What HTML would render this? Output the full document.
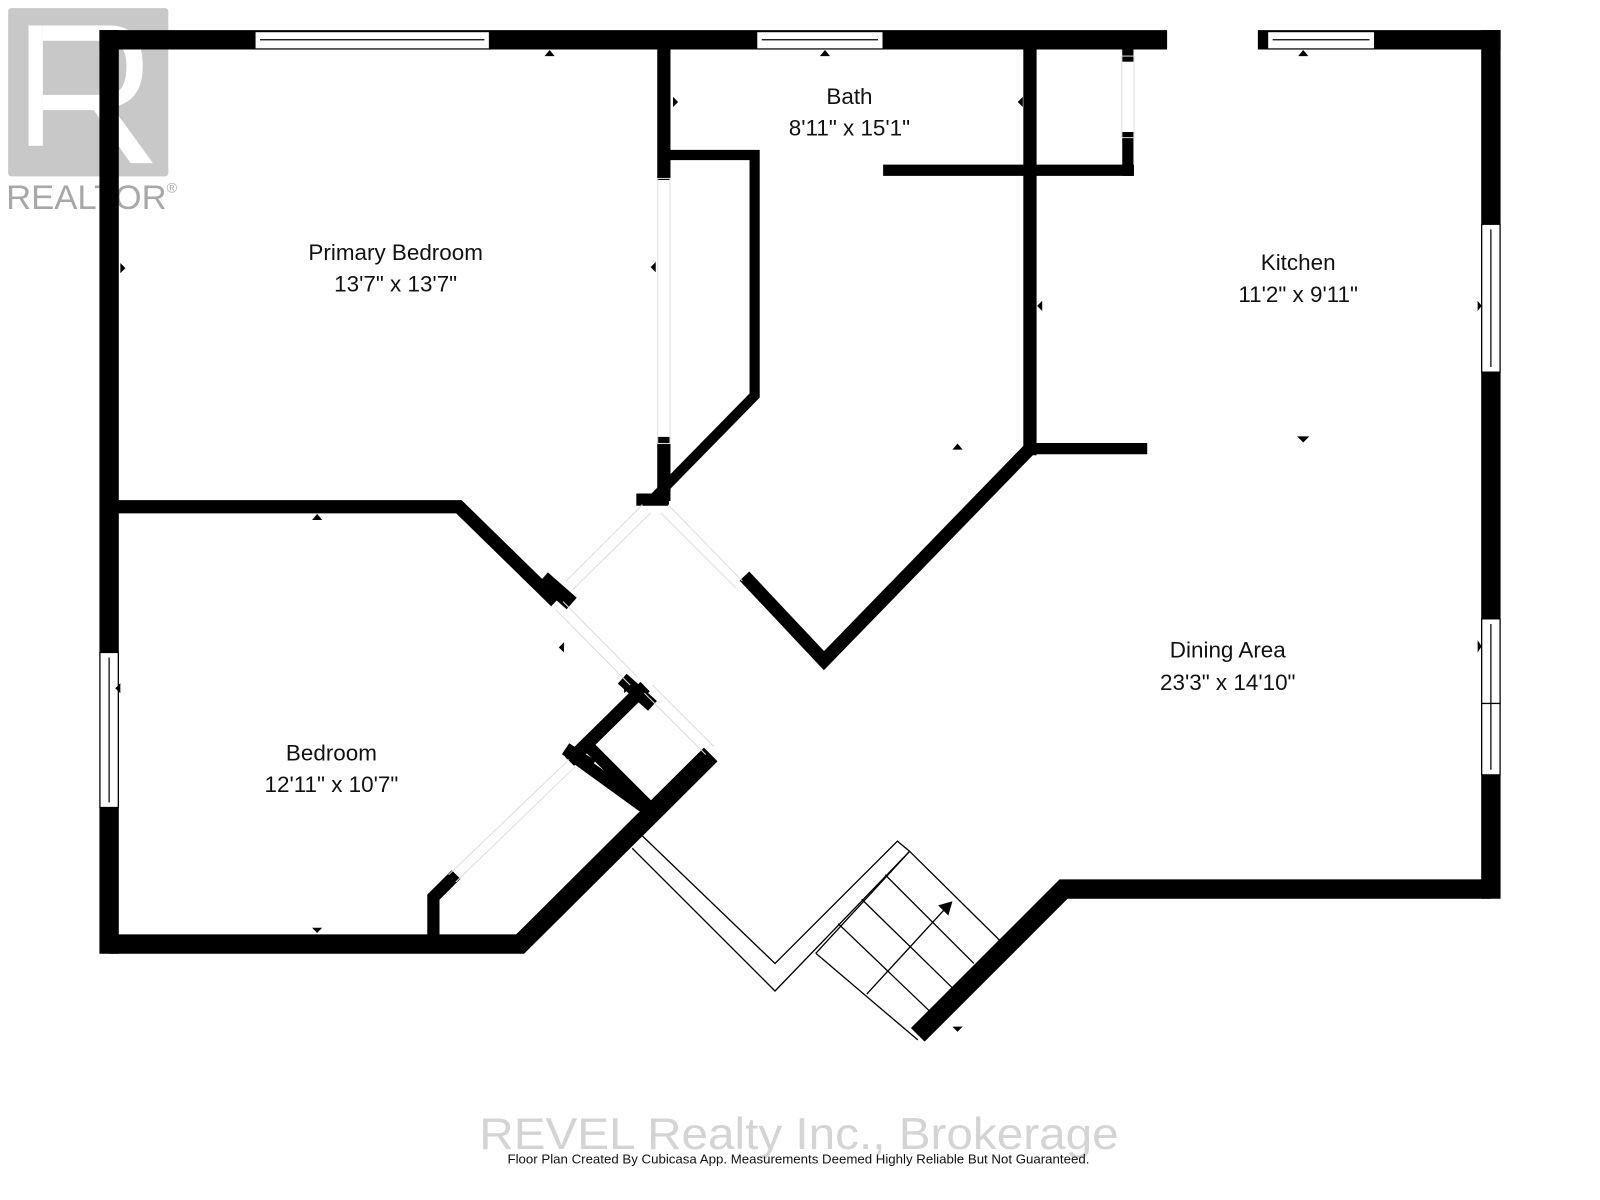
<!DOCTYPE html>
<html><head><style>
html,body{margin:0;padding:0;background:#fff;}
svg{display:block;}
text{font-family:"Liberation Sans","DejaVu Sans",sans-serif;fill:#111;}
</style></head><body>
<svg width="1600" height="1200" viewBox="0 0 1569 1177" preserveAspectRatio="none" xmlns="http://www.w3.org/2000/svg">
<rect width="1569" height="1177" fill="#fff"/>
<!-- realtor logo -->
<rect x="8" y="8" width="157" height="165" rx="3" fill="#c8c8c8"/>
<rect x="28" y="25" width="14" height="118" fill="#fff"/>
<path d="M42 25 H108 Q140 25 140 65 Q140 100 110 105 L150 160 H128 L92 108 H42 V93 H105 Q124 93 124 65 Q124 40 105 40 H42Z" fill="#fff"/>
<text x="6" y="205" font-size="34" style="fill:#a8a8a8">REALTOR<tspan font-size="14" dy="-16">®</tspan></text>

<g stroke="#000" fill="none" stroke-linecap="square">
<line x1="107" y1="39" x2="1135" y2="39" stroke-width="19"/>
<line x1="1243" y1="39" x2="1462" y2="39" stroke-width="19"/>
<line x1="1462" y1="39" x2="1462" y2="872" stroke-width="19"/>
<polyline points="1462,872 1043,872 900,1015" stroke-width="19" stroke-linecap="butt"/>
<line x1="107" y1="39" x2="107" y2="926" stroke-width="19"/>
<polyline points="107,926 510,926 697,740" stroke-width="19" stroke-linecap="butt"/>
<polyline points="107,497 450,497 545,590" stroke-width="13" stroke-linecap="butt"/>
<line x1="538" y1="572" x2="555" y2="587" stroke-width="15"/>
<line x1="651" y1="45" x2="651" y2="170" stroke-width="13"/>
<line x1="651" y1="435" x2="651" y2="485" stroke-width="13"/>
<polyline points="651,152 740,152 740,388 645,485" stroke-width="10" stroke-linejoin="miter"/>
<line x1="630" y1="490" x2="650" y2="490" stroke-width="12"/>
<line x1="1010" y1="45" x2="1010" y2="440" stroke-width="13"/>
<polyline points="1010,440 808,648 730,565" stroke-width="13" stroke-linecap="butt"/>
<line x1="1010" y1="440" x2="1125" y2="440" stroke-width="11" stroke-linecap="butt"/>
<line x1="866" y1="167" x2="1112" y2="167" stroke-width="11" stroke-linecap="butt"/>
<line x1="1106" y1="135" x2="1106" y2="167" stroke-width="11"/>
<line x1="1106" y1="48" x2="1106" y2="55" stroke-width="11"/>
<polyline points="628,678 563,742" stroke-width="13"/>
<line x1="615" y1="670" x2="635" y2="688" stroke-width="13"/>
<line x1="563" y1="742" x2="632" y2="792" stroke-width="12"/>
<line x1="560" y1="738" x2="575" y2="748" stroke-width="13"/>
<line x1="580" y1="735" x2="635" y2="790" stroke-width="12"/>
<polyline points="443,862 425,880 425,918" stroke-width="12"/>
</g>
<g fill="#fff" stroke="#000" stroke-width="1.2">
<rect x="250" y="31" width="230" height="17"/>
<line x1="255" y1="39" x2="475" y2="39"/>
<rect x="742" y="31" width="124" height="17"/>
<line x1="747" y1="39" x2="861" y2="39"/>
<rect x="1243" y="31" width="105" height="17"/>
<line x1="1248" y1="39" x2="1343" y2="39"/>
<rect x="1453" y="220" width="18" height="145"/>
<line x1="1462" y1="225" x2="1462" y2="360"/>
<rect x="1453" y="607" width="18" height="83"/>
<rect x="1453" y="690" width="18" height="70"/>
<line x1="1462" y1="612" x2="1462" y2="755"/>
<rect x="98" y="640" width="18" height="152"/>
<line x1="107" y1="645" x2="107" y2="787"/>
</g>
<g stroke="#ddd" stroke-width="1" fill="none">
<rect x="645" y="175" width="12" height="260"/>
<rect x="1100" y="55" width="12" height="80"/>
<polyline points="555,570 630,495"/><polyline points="562,578 638,503"/>
<polyline points="655,495 728,570"/><polyline points="648,503 722,577"/>
<polyline points="545,598 618,672"/><polyline points="552,590 625,664"/>
<polyline points="632,680 692,740"/><polyline points="640,672 700,732"/>
<polyline points="440,858 558,745"/><polyline points="447,865 564,752"/>
</g>
<g stroke="#000" stroke-width="1.3" fill="none">
<polyline points="630,820 760,945 880,825 892,835 760,972 620,832"/>
<polyline points="892,835 980,922"/>
<polyline points="800,935 900,1020"/>
<line x1="868" y1="858" x2="955" y2="945"/>
<line x1="845" y1="882" x2="935" y2="970"/>
<line x1="822" y1="906" x2="915" y2="995"/>
<line x1="800" y1="935" x2="892" y2="835"/>
<line x1="850" y1="975" x2="928" y2="890"/>
</g>
<polygon points="934,884 920,888 930,898" fill="#000"/>
<g fill="#000">
<polygon points="534,55 544,55 539,49"/>
<polygon points="804,55 814,55 809,49"/>
<polygon points="1273,55 1283,55 1278,49"/>
<polygon points="118,258 118,268 123,263"/>
<polygon points="643,257 643,267 638,262"/>
<polygon points="660,95 660,105 665,100"/>
<polygon points="1003,95 1003,105 998,100"/>
<polygon points="1022,295 1022,305 1017,300"/>
<polygon points="1449,295 1449,305 1453,300"/>
<polygon points="934,441 944,441 939,435"/>
<polygon points="1272,428 1284,428 1278,434"/>
<polygon points="306,510 316,510 311,504"/>
<polygon points="553,630 553,640 548,635"/>
<polygon points="1449,628 1449,640 1453,634"/>
<polygon points="118,670 118,680 113,675"/>
<polygon points="306,910 316,910 311,915"/>
<polygon points="934,1007 944,1007 939,1012"/>
<polygon points="612,670 612,680 617,675"/>
</g>
<g font-size="22" text-anchor="middle">
<text x="833" y="102">Bath</text>
<text x="833" y="133">8'11" x 15'1"</text>
<text x="388" y="255">Primary Bedroom</text>
<text x="388" y="286">13'7" x 13'7"</text>
<text x="1273" y="265">Kitchen</text>
<text x="1273" y="296">11'2" x 9'11"</text>
<text x="1204" y="645">Dining Area</text>
<text x="1204" y="677">23'3" x 14'10"</text>
<text x="325" y="746">Bedroom</text>
<text x="325" y="777">12'11" x 10'7"</text>
</g>
<text x="470" y="1127" font-size="44" textLength="627" lengthAdjust="spacingAndGlyphs" style="fill:#d4d4d4">REVEL Realty Inc., Brokerage</text>
<text x="783" y="1141" font-size="13" text-anchor="middle">Floor Plan Created By Cubicasa App. Measurements Deemed Highly Reliable But Not Guaranteed.</text>
</svg>
</body></html>
